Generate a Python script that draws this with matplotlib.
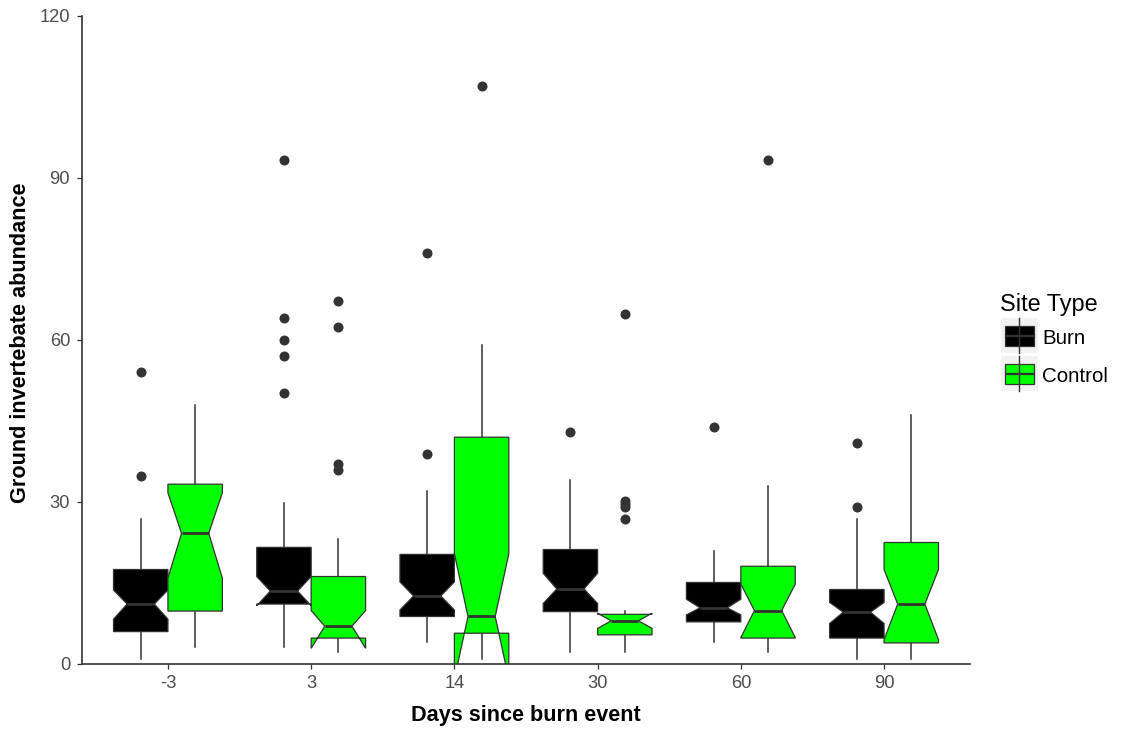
import matplotlib
matplotlib.use("Agg")
import matplotlib.pyplot as plt
from matplotlib.patches import Rectangle

plt.rcParams['font.family'] = ['Liberation Sans', 'DejaVu Sans']

# Days since burn (x categories)
days = ['-3', '3', '14', '30', '60', '90']

# Burn sites: five-number summary, notch limits and outliers
burn_whislo = [1.0, 3.2, 4.1, 2.3, 4.0, 1.0]
burn_q1 = [6.0, 11.1, 8.8, 9.7, 7.8, 4.8]
burn_cilo = [8.3, 10.8, 10.0, 11.2, 9.1, 7.5]
burn_med = [11.1, 13.5, 12.6, 13.9, 10.4, 9.6]
burn_cihi = [13.7, 16.2, 15.2, 16.8, 12.0, 11.4]
burn_q3 = [17.5, 21.6, 20.3, 21.2, 15.1, 13.8]
burn_whishi = [26.9, 29.9, 32.1, 34.1, 21.0, 26.9]
burn_out = [[54.1, 34.9],
            [93.3, 64.1, 60.0, 57.0, 50.1],
            [76.1, 38.9],
            [42.9],
            [43.9],
            [41.0, 29.0]]

# Control sites
ctrl_whislo = [3.2, 2.3, 1.0, 2.3, 2.3, 1.0]
ctrl_q1 = [9.8, 4.8, 5.7, 5.4, 4.8, 3.9]
ctrl_cilo = [15.9, 2.9, -2.8, 6.6, 4.9, 4.5]
ctrl_med = [24.2, 7.0, 8.8, 8.0, 9.9, 11.1]
ctrl_cihi = [31.7, 9.9, 20.4, 9.4, 14.8, 17.5]
ctrl_q3 = [33.3, 16.2, 42.0, 9.2, 18.1, 22.5]
ctrl_whishi = [48.0, 23.1, 59.1, 9.8, 33.0, 46.1]
ctrl_out = [[],
            [67.2, 62.4, 37.0, 36.0],
            [107.0],
            [64.9, 30.1, 29.6, 29.1, 26.9],
            [93.3],
            []]

site_types = ['Burn', 'Control']
site_colors = ['#000000', '#00FF00']
EDGE = '#333333'


def make_stats(whislo, q1, cilo, med, cihi, q3, whishi, out):
    return [dict(whislo=a, q1=b, cilo=c, med=d, cihi=e, q3=f, whishi=g, fliers=h)
            for a, b, c, d, e, f, g, h in zip(whislo, q1, cilo, med, cihi, q3, whishi, out)]


groups = [
    make_stats(burn_whislo, burn_q1, burn_cilo, burn_med, burn_cihi, burn_q3, burn_whishi, burn_out),
    make_stats(ctrl_whislo, ctrl_q1, ctrl_cilo, ctrl_med, ctrl_cihi, ctrl_q3, ctrl_whishi, ctrl_out),
]

W, H = 1126, 731
fig = plt.figure(figsize=(W / 100, H / 100), dpi=100)
ax = fig.add_axes([82 / W, 1 - 664 / H, (970 - 82) / W, (664 - 16) / H])

base = list(range(1, len(days) + 1))
offset = 0.19
width = 0.38
for k, (stats, color) in enumerate(zip(groups, site_colors)):
    pos = [p + (k - 0.5) * 2 * offset for p in base]
    ax.bxp(stats, positions=pos, widths=width, patch_artist=True,
           shownotches=True, showcaps=False,
           boxprops=dict(facecolor=color, edgecolor=EDGE, linewidth=0.9, zorder=2),
           whiskerprops=dict(color=EDGE, linewidth=1.1, zorder=1.5),
           medianprops=dict(color=EDGE, linewidth=2.0, zorder=2.1, solid_capstyle='butt'),
           flierprops=dict(marker='o', markerfacecolor=EDGE, markeredgecolor=EDGE,
                           markersize=6.2, linestyle='none'),
           manage_ticks=False)

ax.set_xlim(0.4, 6.6)
ax.set_ylim(0, 120)
ax.set_xticks(base)
ax.set_xticklabels(days)
ax.set_yticks([0, 30, 60, 90, 120])
for s in ['top', 'right']:
    ax.spines[s].set_visible(False)
for s in ['left', 'bottom']:
    ax.spines[s].set_color('#333333')
    ax.spines[s].set_linewidth(1.2)
ax.tick_params(axis='both', colors='#333333', length=3.6, width=0.9,
               labelsize=13.2, labelcolor='#4D4D4D')
ax.tick_params(axis='x', pad=4.5)
ax.tick_params(axis='y', pad=5)

fig.text(525.5 / W, 1 - 721.5 / H, 'Days since burn event', ha='center', va='baseline',
         fontsize=15.6, fontweight='bold', color='black')
fig.text(21 / W, 1 - 343 / H, 'Ground invertebate abundance', ha='center', va='center',
         rotation=90, fontsize=15.6, fontweight='bold', color='black')

# Legend drawn in pixel coordinates
lax = fig.add_axes([0, 0, 1, 1])
lax.set_xlim(0, W)
lax.set_ylim(H, 0)
lax.axis('off')
lax.text(1000, 311, 'Site Type', fontsize=16.9, ha='left', va='baseline', color='black')
key_top = [318, 356]
for name, color, top in zip(site_types, site_colors, key_top):
    lax.add_patch(Rectangle((1001, top), 36.5, 35, facecolor='#F2F2F2', edgecolor='none'))
    cx = 1019.3
    lax.plot([cx, cx], [top, top + 35], color=EDGE, lw=1.0)
    lax.add_patch(Rectangle((1004.5, top + 7.5), 29.5, 20.5, facecolor=color,
                            edgecolor=EDGE, linewidth=0.9))
    lax.plot([1004.5, 1034], [top + 17.8, top + 17.8], color=EDGE, lw=1.6,
             solid_capstyle='butt')
    lax.text(1042, top + 26, name, fontsize=14.8, ha='left', va='baseline', color='black')

fig.savefig('out.png', dpi=100)
